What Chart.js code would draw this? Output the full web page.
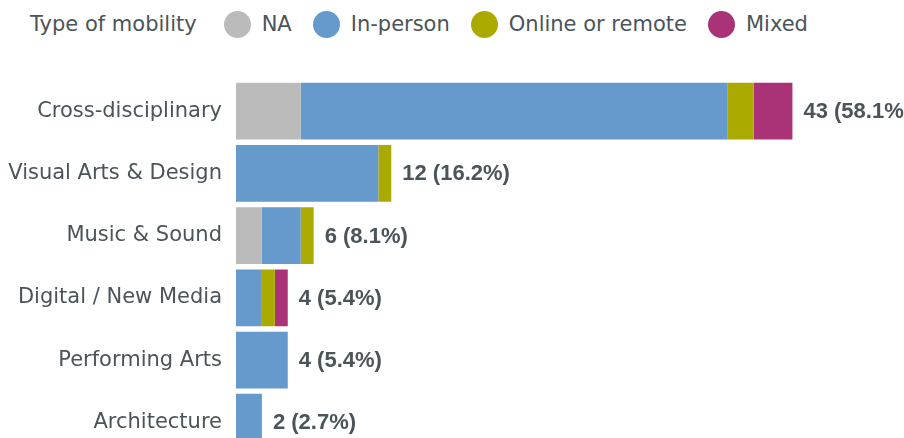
<!DOCTYPE html>
<html>
<head>
<meta charset="utf-8">
<script src="https://cdn.jsdelivr.net/npm/chart.js@4"></script>
<style>
  html, body { margin: 0; padding: 0; background: #fff; }
  #wrap { position: relative; width: 904px; height: 438px; overflow: hidden; }
  #legend {
    position: absolute; left: 30px; top: 6px; height: 36px;
    display: flex; align-items: center;
    font-family: "DejaVu Sans", sans-serif; font-size: 21px; color: #4a5459;
  }
  #legend .title { margin-right: 27px; }
  #legend .item { display: flex; align-items: center; margin-right: 21px; }
  #legend .dot { width: 27px; height: 27px; border-radius: 50%; margin-right: 11px; }
  #chart { position: absolute; left: 0; top: 0; }
</style>
</head>
<body>
<div id="wrap">
  <div id="legend"></div>
  <canvas id="chart" width="904" height="480"></canvas>
</div>
<script>
(() => {
  const categories = [
    "Cross-disciplinary",
    "Visual Arts & Design",
    "Music & Sound",
    "Digital / New Media",
    "Performing Arts",
    "Architecture",
  ];
  const seriesNames = ["NA", "In-person", "Online or remote", "Mixed"];
  const seriesColors = ["#bbbbbb", "#6699cc", "#aaaa00", "#aa3377"];
  const naValues = [5, 0, 2, 0, 0, 0];
  const inPersonValues = [33, 11, 3, 2, 4, 2];
  const onlineValues = [2, 1, 1, 1, 0, 0];
  const mixedValues = [3, 0, 0, 1, 0, 0];
  const pctLabels = ["58.1", "16.2", "8.1", "5.4", "5.4", "2.7"];

  const seriesValues = [naValues, inPersonValues, onlineValues, mixedValues];
  const textColor = "#4a5459";

  const legendEl = document.getElementById("legend");
  legendEl.innerHTML =
    `<span class="title">Type of mobility</span>` +
    seriesNames
      .map(
        (n, i) =>
          `<span class="item"><span class="dot" style="background:${seriesColors[i]}"></span>${n}</span>`
      )
      .join("");

  // "n (pct%)" after each stacked bar
  const totalLabels = {
    id: "totalLabels",
    afterDatasetsDraw(chart) {
      const { ctx, scales } = chart;
      ctx.save();
      ctx.font = "bold 22px 'Liberation Sans', Arial, sans-serif";
      ctx.fillStyle = textColor;
      ctx.textBaseline = "middle";
      ctx.textAlign = "left";
      categories.forEach((c, i) => {
        const total = seriesValues.reduce((s, arr) => s + arr[i], 0);
        const x = scales.x.getPixelForValue(total) + 11;
        const y = scales.y.getPixelForValue(i) + 1;
        ctx.fillText(`${total} (${pctLabels[i]}%)`, x, y);
      });
      ctx.restore();
    },
  };

  new Chart(document.getElementById("chart"), {
    type: "bar",
    data: {
      labels: categories,
      datasets: seriesNames.map((n, i) => ({
        label: n,
        data: seriesValues[i],
        backgroundColor: seriesColors[i],
        borderWidth: 0,
        barPercentage: 1,
        categoryPercentage: 0.913,
      })),
    },
    options: {
      indexAxis: "y",
      responsive: false,
      animation: false,
      layout: { padding: { top: 80, bottom: 0, left: 0, right: 21 } },
      plugins: {
        legend: { display: false },
        tooltip: { enabled: false },
      },
      scales: {
        x: { stacked: true, display: false, min: 0, max: 50 },
        y: {
          stacked: true,
          grid: { display: false, drawTicks: false },
          border: { display: false },
          ticks: {
            padding: 14,
            color: textColor,
            font: { family: "'DejaVu Sans', sans-serif", size: 21 },
          },
          afterFit(scale) {
            scale.width = 236;
          },
        },
      },
    },
    plugins: [totalLabels],
  });
})();
</script>
</body>
</html>
